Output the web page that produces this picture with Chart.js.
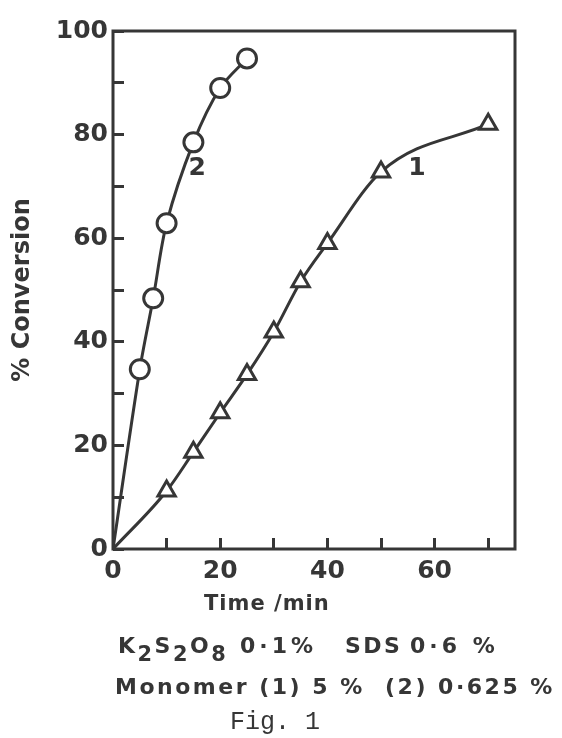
<!DOCTYPE html>
<html>
<head>
<meta charset="utf-8">
<script src="https://cdn.jsdelivr.net/npm/chart.js@4/dist/chart.umd.min.js"></script>
<style>
  html, body { margin: 0; padding: 0; background: #fff; }
  #wrap { position: relative; width: 562px; height: 738px; }
  #conv { position: absolute; left: 0; top: 0; }
  .cap {
    position: absolute; white-space: nowrap; color: #363636;
    font-family: "DejaVu Sans", sans-serif; font-weight: bold; font-size: 22px; line-height: 22px;
    letter-spacing: 2.5px;
  }
  .cap .part { position: absolute; top: 0; }
  .cap .lo { font-size: 0.95em; position: relative; top: 0.4em; }
  .axis-name { font-size: 21px; letter-spacing: 1px; }
  .fig { font-family: "Liberation Mono", "DejaVu Sans Mono", monospace; font-weight: normal; font-size: 25px; letter-spacing: 0; }
</style>
</head>
<body>
<div id="wrap">
  <canvas id="conv" width="562" height="738"></canvas>
  <div class="cap axis-name" style="left:204px; top:592px;">Time /min</div>
  <div class="cap" style="left:0; top:635px;">
    <span class="part" style="left:118px;">K<span class="lo">2</span>S<span class="lo">2</span>O<span class="lo">8</span></span>
    <span class="part" style="left:240px; letter-spacing:4px;">0·1%</span>
    <span class="part" style="left:345px;">SDS</span>
    <span class="part" style="left:410px; letter-spacing:4px;">0·6 %</span>
  </div>
  <div class="cap" style="left:115px; top:676px;">Monomer (1) 5 %&nbsp;&nbsp;(2) 0·625 %</div>
  <div class="cap fig" style="left:230px; top:712px;">Fig. 1</div>
</div>
<script>
// run 1: monomer 5 %
const time1 = [0, 10, 15, 20, 25, 30, 35, 40, 50, 70];
const conv1 = [0, 11.2, 18.7, 26.3, 33.7, 41.9, 51.6, 59, 72.8, 82];
// run 2: monomer 0.625 %
const time2 = [0, 5, 7.5, 10, 15, 20, 25];
const conv2 = [0, 34.7, 48.4, 62.9, 78.5, 89, 94.7];

const xTicks = [0, 20, 40, 60];
const yTicks = [0, 20, 40, 60, 80, 100];

const ink = '#363636';
const rounded = '"DejaVu Sans", sans-serif';

const toPoints = (xs, ys) => xs.map((x, i) => ({ x: x, y: ys[i] }));
// the origin point carries the curve only, no marker
const hideOrigin = r => ctx => (ctx.dataIndex === 0 ? 0 : r);

// curve numbers, placed in data units next to each curve
const curveTags = [
  { text: '2', x: 15.7, y: 73.4 },
  { text: '1', x: 56.7, y: 73.4 }
];

const frame = {
  id: 'frame',
  beforeDatasetsDraw(chart) {
    const { ctx, chartArea: a } = chart;
    ctx.save();
    ctx.strokeStyle = ink;
    ctx.lineWidth = 3;
    ctx.strokeRect(a.left, a.top, a.right - a.left, a.bottom - a.top);
    ctx.restore();
  },
  afterDatasetsDraw(chart) {
    const { ctx, scales } = chart;
    ctx.save();
    ctx.fillStyle = ink;
    ctx.font = 'bold 25px ' + rounded;
    ctx.textAlign = 'center';
    ctx.textBaseline = 'middle';
    curveTags.forEach(t => {
      ctx.fillText(t.text, scales.x.getPixelForValue(t.x), scales.y.getPixelForValue(t.y));
    });
    ctx.restore();
  }
};

const tickFont = { family: rounded, size: 25, weight: 'bold' };

new Chart(document.getElementById('conv'), {
  type: 'line',
  data: {
    datasets: [
      {
        label: '(1) 5 %',
        data: toPoints(time1, conv1),
        borderColor: ink,
        borderWidth: 3,
        cubicInterpolationMode: 'monotone',
        pointStyle: 'triangle',
        pointRadius: hideOrigin(10),
        pointBorderWidth: 3,
        pointBorderColor: ink,
        pointBackgroundColor: '#fff'
      },
      {
        label: '(2) 0.625 %',
        data: toPoints(time2, conv2),
        borderColor: ink,
        borderWidth: 3,
        tension: 0.3,
        pointStyle: 'circle',
        pointRadius: hideOrigin(9.5),
        pointBorderWidth: 3,
        pointBorderColor: ink,
        pointBackgroundColor: '#fff'
      }
    ]
  },
  options: {
    responsive: false,
    animation: false,
    layout: { padding: { left: 0, top: 24, right: 47, bottom: 118 } },
    plugins: { legend: { display: false }, tooltip: { enabled: false } },
    scales: {
      x: {
        type: 'linear',
        min: 0,
        max: 75,
        border: { display: false },
        grid: { drawOnChartArea: false, drawTicks: true, tickLength: -11, tickWidth: 3, tickColor: ink },
        ticks: {
          stepSize: 10,
          includeBounds: false,
          maxRotation: 0,
          padding: 18,
          color: ink,
          font: tickFont,
          callback: v => (xTicks.includes(v) ? v : '')
        },
        afterFit: s => { s.height = 71; }
      },
      y: {
        min: 0,
        max: 100,
        border: { display: false },
        grid: { drawOnChartArea: false, drawTicks: true, tickLength: -11, tickWidth: 3, tickColor: ink },
        ticks: {
          stepSize: 10,
          padding: 16,
          color: ink,
          font: tickFont,
          callback: v => (yTicks.includes(v) ? v : '')
        },
        title: {
          display: true,
          text: '% Conversion',
          color: ink,
          font: { family: rounded, size: 24, weight: 'bold' },
          padding: { top: 8, bottom: 0 }
        },
        afterFit: s => { s.width = 113; }
      }
    }
  },
  plugins: [frame]
});
</script>
</body>
</html>
